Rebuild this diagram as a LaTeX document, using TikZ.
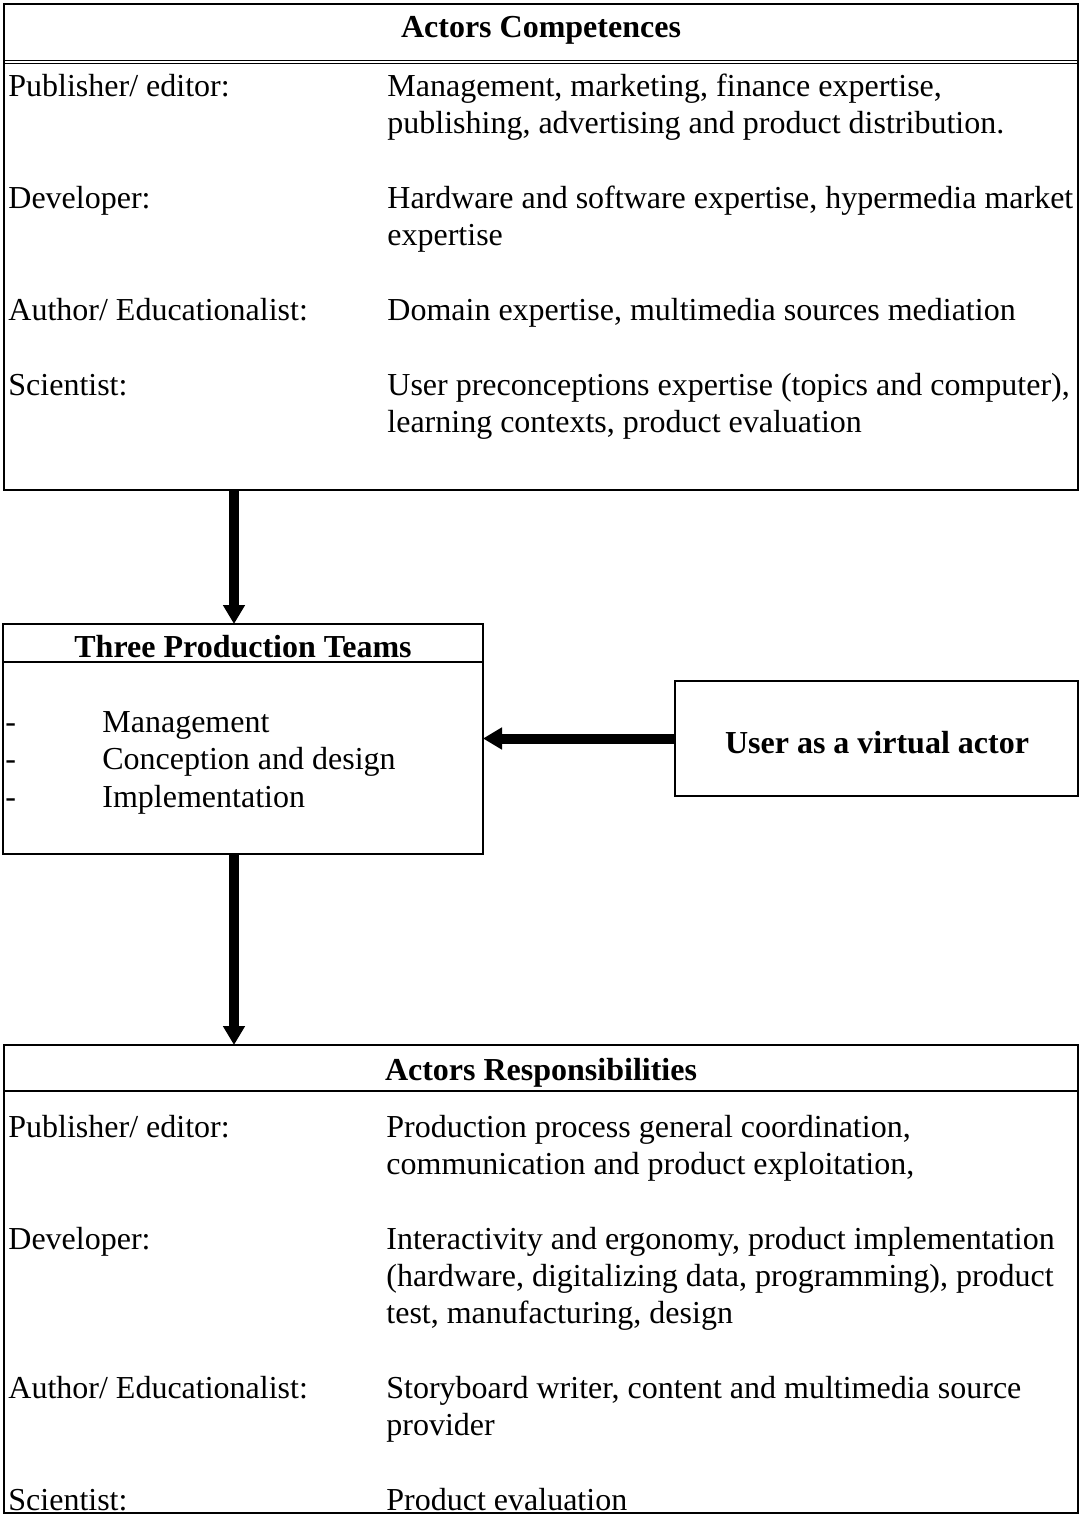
\documentclass[tikz,border=0pt]{standalone}
\usepackage{fontspec}
\setmainfont{Liberation Serif}
\usetikzlibrary{arrows.meta}
\begin{document}
\begin{tikzpicture}[x=0.5pt,y=-0.5pt,
  frame/.style={draw, line width=1pt, inner sep=0pt, outer sep=0pt, anchor=north west},
  rulerline/.style={line width=1pt},
  txt/.style={anchor=base west, inner sep=0pt,
    font=\fontsize{16}{18.67}\selectfont},
  headtxt/.style={anchor=base, inner sep=0pt, font=\bfseries\fontsize{16}{18.67}\selectfont},
  flow/.style={line width=5pt, -{Triangle[width=10.5pt,length=9.5pt]}}]

\useasboundingbox (0,0) rectangle (1080,1515);

% --- boxes ---
\node[frame, minimum width=537pt, minimum height=243pt] (comp) at (4,4) {};
\node[frame, minimum width=240pt, minimum height=115pt] (teams) at (3,624) {};
\node[frame, minimum width=201.5pt, minimum height=57.5pt] (user) at (675,681) {};
\node[frame, minimum width=537pt, minimum height=234pt] (resp) at (4,1045) {};

% header rules
\draw[line width=0.7pt] (comp.west |- 0,60.5) -- (comp.east |- 0,60.5);
\draw[line width=0.7pt] (comp.west |- 0,63.5) -- (comp.east |- 0,63.5);
\draw[rulerline] (teams.west |- 0,662) -- (teams.east |- 0,662);
\draw[rulerline] (resp.west |- 0,1091) -- (resp.east |- 0,1091);

% --- competences ---
\node[headtxt] (ch) at (541,37) {Actors Competences};
\node[txt] (c1l) at (8,96) {Publisher/ editor:};
\node[txt] (c1a) at (387,96) {Management, marketing, finance expertise,};
\node[txt] (c1b) at (387,133.3) {publishing, advertising and product distribution.};
\node[txt] (c2l) at (8,208) {Developer:};
\node[txt] (c2a) at (387,208) {Hardware and software expertise, hypermedia market};
\node[txt] (c2b) at (387,245.3) {expertise};
\node[txt] (c3l) at (8,320) {Author/ Educationalist:};
\node[txt] (c3a) at (387,320) {Domain expertise, multimedia sources mediation};
\node[txt] (c4l) at (8,395) {Scientist:};
\node[txt] (c4a) at (387,395) {User preconceptions expertise (topics and computer),};
\node[txt] (c4b) at (387,432.3) {learning contexts, product evaluation};

% --- production teams ---
\node[headtxt] (th) at (243,657) {Three Production Teams};
\node[txt] (d1) at (5,732) {-};
\node[txt] (d2) at (5,769.5) {-};
\node[txt] (d3) at (5,807) {-};
\node[txt] (t1) at (102,732) {Management};
\node[txt] (t2) at (102,769.5) {Conception and design};
\node[txt] (t3) at (102,807) {Implementation};

% --- user ---
\node[headtxt] (ut) at (877,753) {User as a virtual actor};

% --- responsibilities ---
\node[headtxt] (rh) at (541,1080) {Actors Responsibilities};
\node[txt] (r1l) at (8,1137) {Publisher/ editor:};
\node[txt] (r1a) at (386,1137) {Production process general coordination,};
\node[txt] (r1b) at (386,1174.3) {communication and product exploitation,};
\node[txt] (r2l) at (8,1249) {Developer:};
\node[txt] (r2a) at (386,1249) {Interactivity and ergonomy, product implementation};
\node[txt] (r2b) at (386,1286.3) {(hardware, digitalizing data, programming), product};
\node[txt] (r2c) at (386,1323.6) {test, manufacturing, design};
\node[txt] (r3l) at (8,1398) {Author/ Educationalist:};
\node[txt] (r3a) at (386,1398) {Storyboard writer, content and multimedia source};
\node[txt] (r3b) at (386,1435.3) {provider};
\node[txt] (r4l) at (8,1510) {Scientist:};
\node[txt] (r4a) at (386,1510) {Product evaluation};

% --- connectors ---
\draw[flow] ([xshift=115pt]comp.south west) -- ([xshift=115.5pt]teams.north west);
\draw[flow] ([xshift=115.5pt]teams.south west) -- ([xshift=115pt]resp.north west);
\draw[flow] (user.west) -- (user.west -| teams.east);
\end{tikzpicture}
\end{document}
